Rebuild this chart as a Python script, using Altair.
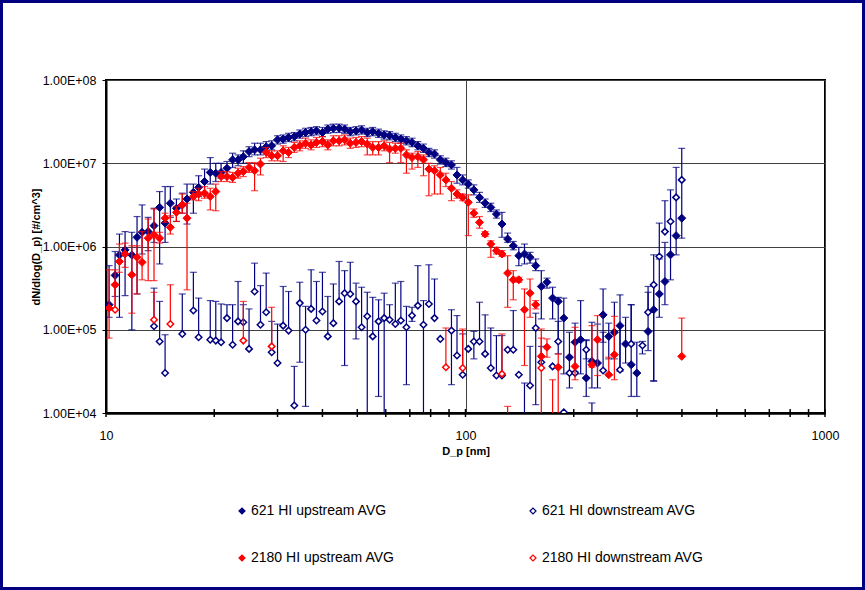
import altair as alt
import pandas as pd

# SMPS channel midpoints, 64 channels per decade [nm]
d_p = [
    10.2, 10.6, 10.9, 11.3, 11.8, 12.2, 12.6, 13.1, 13.6, 14.1,
    14.6, 15.1, 15.7, 16.3, 16.8, 17.5, 18.1, 18.8, 19.5, 20.2,
    20.9, 21.7, 22.5, 23.3, 24.1, 25.0, 25.9, 26.9, 27.9, 28.9,
    30.0, 31.1, 32.2, 33.4, 34.6, 35.9, 37.2, 38.5, 40.0, 41.4,
    42.9, 44.5, 46.1, 47.8, 49.6, 51.4, 53.3, 55.2, 57.3, 59.4,
    61.5, 63.8, 66.1, 68.5, 71.0, 73.7, 76.4, 79.1, 82.0, 85.1,
    88.2, 91.4, 94.7, 98.2, 101.8, 105.5, 109.4, 113.4, 117.6, 121.9,
    126.3, 131.0, 135.8, 140.7, 145.9, 151.2, 156.8, 162.5, 168.5, 174.7,
    181.1, 187.7, 194.6, 201.7, 209.1, 216.7, 224.7, 232.9, 241.4, 250.3,
    259.5, 269.0, 278.8, 289.0, 299.6, 310.6, 322.0, 333.8, 346.0, 358.7,
    371.8, 385.4, 399.5,
]

# 621 HI upstream: average dN/dlogDp and error-bar limits [#/cm^3]
up621 = [
    2.0e5, 4.5e5, 7.9e5, 9.1e5, 7.9e5, 1.29e6, 1.48e6, 1.51e6, 1.78e6, 2.95e6,
    1.91e6, 3.31e6, 2.88e6, 3.16e6, 3.72e6, 4.47e6, 5.13e6, 6.03e6, 7.76e6, 7.59e6,
    7.76e6, 8.71e6, 1.10e7, 1.10e7, 1.20e7, 1.38e7, 1.45e7, 1.45e7, 1.58e7, 1.62e7,
    1.91e7, 1.95e7, 2.04e7, 2.09e7, 2.24e7, 2.34e7, 2.40e7, 2.45e7, 2.34e7, 2.57e7,
    2.63e7, 2.63e7, 2.57e7, 2.40e7, 2.45e7, 2.51e7, 2.34e7, 2.40e7, 2.29e7, 2.19e7,
    2.14e7, 2.04e7, 1.95e7, 1.86e7, 1.78e7, 1.62e7, 1.51e7, 1.35e7, 1.29e7, 1.10e7,
    1.02e7, 9.55e6, 7.24e6, 6.31e6, 5.62e6, 4.79e6, 3.89e6, 3.31e6, 2.95e6, 2.45e6,
    1.86e6, 1.23e6, 1.02e6, 7.76e5, 8.13e5, 7.41e5, 5.89e5, 3.31e5, 3.72e5, 2.40e5,
    2.19e5, 1.38e5, 4.68e4, 7.08e4, 7.59e4, 2.63e4, 4.17e4, 3.98e4, 1.51e5, 8.32e4,
    9.33e4, 1.12e5, 6.76e4, 3.80e4, 3.02e4, None, 9.55e4, 1.74e5, 2.69e5, 3.80e5,
    7.94e5, 1.35e6, 2.19e6,
]
up621_lo = [
    1.41e5, 2.51e5, 1.41e5, 2.57e5, 1.0e5, 2.69e5, 8.13e5, 8.91e5, 1.12e6, 6.17e5,
    1.12e6, 2.24e6, 2.0e6, 2.51e6, 1.86e6, 2.51e6, 3.98e6, 4.47e6, 5.62e6, 6.03e6,
    6.61e6, 7.08e6, 8.91e6, 9.33e6, 1.0e7, 1.20e7, 1.26e7, 1.26e7, 1.41e7, 1.45e7,
    1.70e7, 1.74e7, 1.82e7, 1.86e7, 2.0e7, 2.09e7, 2.14e7, 2.19e7, 2.09e7, 2.29e7,
    2.34e7, 2.34e7, 2.29e7, 2.14e7, 2.19e7, 2.24e7, 2.09e7, 2.14e7, 2.04e7, 1.95e7,
    1.91e7, 1.82e7, 1.74e7, 1.66e7, 1.58e7, 1.45e7, 1.35e7, 1.20e7, 1.15e7, 9.77e6,
    9.12e6, 8.51e6, 5.75e6, 5.50e6, 5.01e6, 4.17e6, 3.39e6, 2.95e6, 2.63e6, 2.19e6,
    1.29e6, 1.12e6, 9.12e5, 5.89e5, 6.17e5, 6.31e5, 5.13e5, 1.35e5, 3.16e5, 1.35e5,
    5.13e4, 2.95e4, 2.0e4, 3.16e4, 2.95e4, 1.58e4, 2.0e4, 2.0e4, 7.08e4, 4.47e4,
    4.47e4, 3.16e4, 3.98e4, 1.58e4, 1.58e4, None, 5.62e4, 2.45e4, 1.41e5, 2.0e5,
    3.98e5, 7.94e5, 1.26e6,
]
up621_hi = [
    5.89e5, 8.71e5, 1.41e6, 1.51e6, 1.48e6, 2.29e6, 3.16e6, 2.24e6, 2.88e6, 4.57e6,
    5.25e6, 5.25e6, 3.72e6, 4.37e6, 5.62e6, 5.62e6, 7.08e6, 8.51e6, 1.17e7, 1.0e7,
    1.0e7, 1.05e7, 1.32e7, 1.26e7, 1.41e7, 1.58e7, 1.74e7, 1.74e7, 1.82e7, 1.86e7,
    2.14e7, 2.19e7, 2.29e7, 2.34e7, 2.51e7, 2.63e7, 2.69e7, 2.75e7, 2.69e7, 2.88e7,
    2.95e7, 2.95e7, 2.88e7, 2.69e7, 2.75e7, 2.82e7, 2.63e7, 2.69e7, 2.57e7, 2.45e7,
    2.40e7, 2.29e7, 2.19e7, 2.09e7, 2.0e7, 1.82e7, 1.70e7, 1.51e7, 1.45e7, 1.23e7,
    1.15e7, 1.07e7, 8.91e6, 7.24e6, 6.31e6, 5.50e6, 4.47e6, 3.72e6, 3.31e6, 2.75e6,
    2.57e6, 1.45e6, 1.15e6, 9.77e5, 1.07e6, 8.51e5, 7.08e5, 5.13e5, 4.17e5, 3.24e5,
    2.45e5, 2.40e5, 9.33e4, 1.20e5, 2.24e5, 7.59e4, 1.23e5, 1.17e5, 3.09e5, 1.20e5,
    2.14e5, 2.63e5, 1.41e5, 2.0e5, 7.08e4, None, 2.82e5, 3.39e5, 7.08e5, 1.12e6,
    2.0e6, 3.89e6, 6.31e6,
]

# 621 HI downstream
down621 = [
    None, None, None, None, None, None, None, None, 1.10e5, 7.24e4,
    3.02e4, None, None, 8.91e4, None, 1.70e5, 8.13e4, None, 7.59e4, 7.41e4,
    7.08e4, 1.38e5, 6.61e4, 1.26e5, 1.23e5, 5.89e4, 2.88e5, 1.15e5, 1.62e5, 5.37e4,
    3.98e4, 1.12e5, 9.77e4, 1.23e4, 2.09e5, 1.00e5, 1.78e5, 1.29e5, 1.66e5, 8.32e4,
    1.20e5, 2.19e5, 2.75e5, 2.69e5, 2.19e5, 1.07e5, 1.45e5, 8.32e4, 1.26e5, 1.38e5,
    1.32e5, 1.17e5, 1.29e5, 1.07e5, 1.48e5, 1.95e5, 1.15e5, 2.04e5, 1.38e5, 7.76e4,
    None, 9.77e4, 4.90e4, 2.88e4, 5.89e4, 7.24e4, 7.24e4, 5.13e4, 3.47e4, 2.82e4,
    2.82e4, 5.75e4, 5.75e4, 2.88e4, 8.0e3, 2.14e4, 1.05e5, 4.07e4, None, 3.63e4,
    7.24e4, 1.02e4, 3.02e4, 3.02e4, None, 5.75e4, 8.0e3, None, 3.24e4, None,
    None, 3.31e4, None, 6.76e4, None, 6.46e4, 1.62e5, 3.47e5, 7.59e5, 1.51e6,
    2.00e6, 3.89e6, 6.31e6,
]
down621_lo = [
    None, None, None, None, None, None, None, None, None, None,
    None, None, None, None, None, None, None, None, None, None,
    None, None, None, None, None, None, None, None, None, None,
    None, None, None, None, 4.07e4, 1.20e4, None, None, None, None,
    None, None, 3.72e4, None, 7.76e4, None, 5.0e3, None, 1.58e4, 5.0e3,
    None, None, None, 2.19e4, 1.26e5, None, 5.0e3, None, None, None,
    None, 2.19e4, None, None, None, 4.47e4, None, None, None, None,
    None, None, None, None, None, None, 1.26e4, None, None, None,
    None, None, None, None, None, 4.47e4, None, None, None, None,
    None, None, None, None, None, 5.13e4, None, 2.40e4, None, None,
    None, None, None,
]
down621_hi = [
    None, None, None, None, None, None, None, None, 3.16e5, 2.19e5,
    8.71e4, None, None, 2.69e5, None, 4.90e5, 2.40e5, None, 2.24e5, 2.19e5,
    2.04e5, 2.00e5, 2.00e5, 3.80e5, 2.00e5, 1.78e5, 6.31e5, 3.39e5, 4.79e5, 1.26e5,
    1.17e5, 3.31e5, 2.88e5, 3.63e4, 3.72e5, 1.91e5, 5.25e5, 3.80e5, 4.90e5, 2.51e5,
    3.55e5, 6.61e5, 5.13e5, 6.46e5, 3.63e5, 3.24e5, 2.82e5, 2.45e5, 2.29e5, 2.75e5,
    2.00e5, 3.63e5, 3.80e5, 1.91e5, 1.86e5, 5.89e5, 2.24e5, 6.03e5, 4.07e5, None,
    None, 1.74e5, 1.48e5, 8.91e4, None, 9.55e4, 2.14e5, 1.51e5, 1.05e5, 8.51e4,
    8.51e4, None, 1.70e5, None, 2.29e4, 6.31e4, 1.58e5, 6.31e4, None, None,
    1.26e5, None, None, None, None, 7.41e4, 1.32e4, None, 9.33e4, None,
    None, 1.12e5, None, 2.00e5, None, 7.24e4, 3.31e5, 7.94e5, 1.91e6, 3.55e6,
    4.79e6, 8.91e6, 1.51e7,
]

# 2180 HI upstream
up2180 = [
    1.82e5, 3.47e5, 6.61e5, 8.13e5, 4.57e5, 7.41e5, 6.46e5, 1.26e6, 1.38e6, 1.26e6,
    2.19e6, 1.70e6, 2.57e6, 3.16e6, 2.19e6, 3.98e6, 4.27e6, 4.37e6, 3.98e6, 4.57e6,
    6.92e6, 6.92e6, 6.76e6, 7.59e6, 7.94e6, 8.91e6, 8.13e6, 9.77e6, 1.35e7, 1.23e7,
    1.23e7, 1.41e7, 1.35e7, 1.55e7, 1.62e7, 1.74e7, 1.66e7, 1.78e7, 1.82e7, 1.66e7,
    1.86e7, 1.86e7, 1.91e7, 1.74e7, 1.78e7, 1.82e7, 1.70e7, 1.55e7, 1.55e7, 1.62e7,
    1.48e7, 1.51e7, 1.51e7, 1.26e7, 1.17e7, 1.20e7, 1.10e7, 8.51e6, 8.13e6, 7.24e6,
    6.31e6, 5.01e6, 4.27e6, 3.89e6, 3.39e6, 2.51e6, 1.95e6, 1.41e6, 1.07e6, 8.91e5,
    8.13e5, 4.79e5, 3.98e5, 3.98e5, 1.74e5, 2.75e5, 2.0e5, 4.79e4, 6.17e4, None,
    3.55e4, None, None, 3.63e4, None, None, 3.80e4, 7.59e4, None, 2.88e4,
    5.01e4, None, None, None, None, None, None, None, None, None,
    None, None, 4.79e4,
]
up2180_lo = [
    7.94e4, 1.70e5, 4.90e5, 5.62e5, 1.58e5, 2.69e5, 3.98e5, 3.89e5, 3.89e5, 1.10e6,
    1.95e6, 1.41e6, 2.0e6, 2.51e6, 3.02e5, 3.63e6, 3.55e6, 3.80e6, 2.75e6, 2.69e6,
    6.03e6, 6.03e6, 5.89e6, 6.61e6, 6.92e6, 7.76e6, 4.68e6, 7.24e6, 1.17e7, 1.07e7,
    1.07e7, 1.05e7, 1.17e7, 1.35e7, 1.41e7, 1.51e7, 1.45e7, 1.55e7, 1.58e7, 1.45e7,
    1.62e7, 1.62e7, 1.66e7, 1.51e7, 1.55e7, 1.58e7, 1.26e7, 1.26e7, 1.26e7, 1.41e7,
    1.02e7, 1.32e7, 1.02e7, 7.59e6, 8.51e6, 8.91e6, 7.08e6, 4.07e6, 4.27e6, 4.27e6,
    5.25e6, 3.55e6, 3.80e6, 3.55e6, 1.35e6, 2.24e6, 1.66e6, 1.32e6, 7.41e5, 8.13e5,
    7.59e5, 1.86e5, 2.29e5, 3.72e5, 3.72e4, 1.41e5, 1.78e5, 8.9e3, 4.68e4, None,
    5.0e3, None, None, 2.51e4, None, None, 3.55e4, 2.82e4, None, 2.82e4,
    2.51e4, None, None, None, None, None, None, None, None, None,
    None, None, None,
]
up2180_hi = [
    5.25e5, 5.25e5, 1.07e6, 1.10e6, 1.02e6, 1.02e6, 1.51e6, 2.14e6, 2.82e6, 1.48e6,
    2.51e6, 2.34e6, 3.02e6, 4.27e6, 3.31e6, 4.57e6, 5.01e6, 5.25e6, 5.01e6, 5.62e6,
    7.94e6, 7.94e6, 7.76e6, 8.71e6, 9.12e6, 1.02e7, 1.02e7, 1.15e7, 1.55e7, 1.41e7,
    1.41e7, 1.62e7, 1.55e7, 1.78e7, 1.86e7, 2.0e7, 1.91e7, 2.04e7, 2.09e7, 1.91e7,
    2.14e7, 2.14e7, 2.19e7, 2.0e7, 2.04e7, 2.09e7, 2.0e7, 1.82e7, 1.82e7, 1.86e7,
    1.78e7, 1.74e7, 1.74e7, 1.45e7, 1.32e7, 1.38e7, 1.26e7, 1.0e7, 9.33e6, 8.91e6,
    7.59e6, 6.03e6, 4.79e6, 4.27e6, 4.17e6, 2.82e6, 2.29e6, 1.51e6, 1.17e6, 9.77e5,
    8.91e5, 7.76e5, 5.13e5, 4.27e5, 3.09e5, 4.07e5, 2.24e5, 1.02e5, 7.76e4, None,
    5.13e4, None, None, 1.07e5, None, None, 1.12e5, 1.48e5, None, 4.68e4,
    1.45e5, None, None, None, None, None, None, None, None, None,
    None, None, 1.38e5,
]

# 2180 HI downstream (only the channels that were detected)
down2180_dp = [10.6, 13.6, 15.1, 24.1, 28.9, 88.2, 98.2, 126.3, 131.0, 162.5, 174.7]
down2180 = [1.74e5, 1.32e5, 1.17e5, 7.41e4, 6.31e4, 3.55e4, 3.47e4, 2.95e4, 6.3e3, 3.47e4, 6.3e3]
down2180_lo = [None] * len(down2180)
down2180_hi = [3.55e5, 2.82e5, 3.47e5, 2.19e5, 1.86e5, 1.05e5, 1.02e5, 8.91e4, 1.20e4, 7.94e4, 2.51e4]

UP621, DOWN621 = "621 HI upstream AVG", "621 HI downstream AVG"
UP2180, DOWN2180 = "2180 HI upstream AVG", "2180 HI downstream AVG"
NAVY, RED = "#000080", "#FF0000"
# legend fills column by column: upstream entries left, downstream right
LEGEND_ORDER = [UP621, UP2180, DOWN621, DOWN2180]
FILLS = [NAVY, RED, "white", "white"]
STROKES = [NAVY, RED, NAVY, RED]

x_ticks = [10, 20, 30, 40, 50, 60, 70, 80, 90,
           100, 200, 300, 400, 500, 600, 700, 800, 900, 1000]
y_decades = [1e4, 1e5, 1e6, 1e7, 1e8]

W, H = 719, 333
FONT = "Liberation Sans"


def frame(name, dps, vals, los, his):
    rec = []
    for d, v, lo, hi in zip(dps, vals, los, his):
        if v is None:
            continue
        rec.append({"series": name, "dp": d, "val": v,
                    "lo": v if lo is None else lo,
                    "hi": v if hi is None else hi,
                    "lo_cap": lo, "hi_cap": hi})
    return pd.DataFrame(rec)


x_scale = alt.Scale(type="log", domain=[10, 1000], nice=False)
y_scale = alt.Scale(type="log", domain=[1e4, 1e8], nice=False)

x_axis = alt.Axis(
    values=[10, 100, 1000], labelExpr="format(datum.value, 'd')",
    labelFlush=False, labelFontSize=12.5,
    title="D_p [nm]", titleFontWeight="bold", titlePadding=4,
    ticks=False, labelPadding=16,
    grid=True, gridColor="#404040", gridWidth=1,
    domainColor="black", domainWidth=2.5,
)
y_axis = alt.Axis(
    values=y_decades,
    labelExpr="'1.00E+0' + round(log(datum.value) / LN10)",
    labelFontSize=12.5,
    title="dN/dlog(D_p) [#/cm^3]", titleFontWeight="bold", titlePadding=1,
    tickSize=4, tickColor="black", tickWidth=1, labelPadding=6,
    grid=True, gridColor="#404040", gridWidth=1,
    domainColor="black", domainWidth=2,
)

legend = alt.Legend(
    title=None, orient="none", legendX=129, legendY=424, columns=2,
    columnPadding=131, rowPadding=33, padding=0, labelLimit=400,
    symbolType="diamond", symbolSize=36, symbolStrokeWidth=1.2,
    labelFont=FONT, labelFontSize=14, labelColor="black", labelOffset=2,
)
fill_enc = alt.Fill("series:N", scale=alt.Scale(domain=LEGEND_ORDER, range=FILLS),
                    legend=legend)
stroke_enc = alt.Stroke("series:N", scale=alt.Scale(domain=LEGEND_ORDER, range=STROKES),
                        legend=legend)


def series_layers(df, color, size, stroke_w):
    base = alt.Chart(df)
    bars = base.mark_rule(color=color, strokeWidth=1.2, clip=True).encode(
        x=alt.X("dp:Q", scale=x_scale, axis=x_axis),
        y=alt.Y("lo:Q", scale=y_scale, axis=y_axis),
        y2="hi:Q",
    )
    caps_lo = base.transform_filter("isValid(datum.lo_cap)").mark_tick(
        orient="horizontal", color=color, size=7, thickness=1.2, clip=True
    ).encode(
        x=alt.X("dp:Q", scale=x_scale, axis=x_axis),
        y=alt.Y("lo_cap:Q", scale=y_scale, axis=y_axis),
    )
    caps_hi = base.transform_filter("isValid(datum.hi_cap)").mark_tick(
        orient="horizontal", color=color, size=7, thickness=1.2, clip=True
    ).encode(
        x=alt.X("dp:Q", scale=x_scale, axis=x_axis),
        y=alt.Y("hi_cap:Q", scale=y_scale, axis=y_axis),
    )
    pts = base.mark_point(
        shape="diamond", filled=True, size=size, strokeWidth=stroke_w,
        opacity=1, fillOpacity=1, clip=True,
    ).encode(
        x=alt.X("dp:Q", scale=x_scale, axis=x_axis),
        y=alt.Y("val:Q", scale=y_scale, axis=y_axis),
        fill=fill_enc, stroke=stroke_enc,
    )
    return [bars, caps_lo, caps_hi, pts]


layers = []
layers += series_layers(frame(UP621, d_p, up621, up621_lo, up621_hi), NAVY, 64, 1)
layers += series_layers(frame(DOWN621, d_p, down621, down621_lo, down621_hi), NAVY, 42, 1.5)
layers += series_layers(frame(UP2180, d_p, up2180, up2180_lo, up2180_hi), RED, 64, 1)
layers += series_layers(frame(DOWN2180, down2180_dp, down2180, down2180_lo, down2180_hi), RED, 42, 1.5)

# tick marks crossing the bottom axis at every decade subdivision
ticks = alt.Chart(pd.DataFrame({"t": x_ticks})).mark_rule(color="black", strokeWidth=1.5).encode(
    x=alt.X("t:Q", scale=x_scale, axis=x_axis),
    y=alt.value(H - 4), y2=alt.value(H + 4),
)

# navy frame around the whole figure
frame_rect = alt.Chart(pd.DataFrame({"a": [0]})).mark_rect(
    fillOpacity=0, stroke=NAVY, strokeWidth=3
).encode(
    x=alt.value(-104.5), x2=alt.value(757.5),
    y=alt.value(-78.5), y2=alt.value(508.5),
)

chart = alt.layer(frame_rect, *layers, ticks).properties(
    width=W, height=H,
    autosize=alt.AutoSizeParams(type="none"),
    padding={"left": 106, "top": 80, "right": 40, "bottom": 177},
    background="white",
).configure_view(
    stroke="black", strokeWidth=2,
).configure_axis(
    labelFont=FONT, titleFont=FONT, labelFontSize=12.5, titleFontSize=11,
    labelColor="black", titleColor="black",
)

chart.save("out.html", embed_options={"renderer": "svg", "actions": False})
